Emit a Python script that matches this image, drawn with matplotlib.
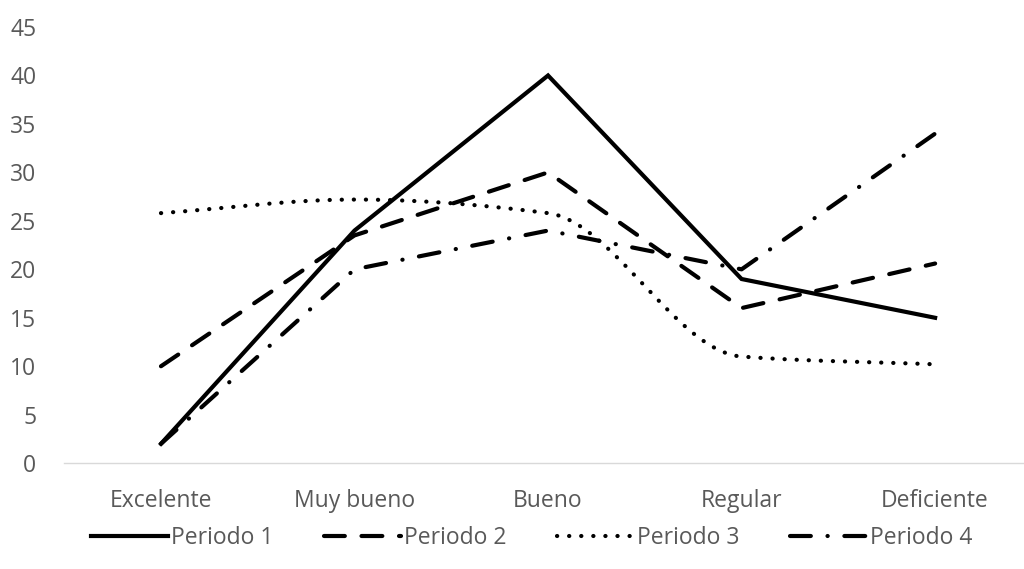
import matplotlib.pyplot as plt
import numpy as np

categories = ['Excelente', 'Muy bueno', 'Bueno', 'Regular', 'Deficiente']
periodo_1 = [2, 24, 40, 19, 15]
periodo_2 = [10, 23.5, 30, 16, 20.6]
periodo_3 = [25.8, 27.2, 25.8, 11, 10.2]
periodo_4 = [2, 20, 24, 20, 34]
yticks = list(range(0, 50, 5))


def smooth(xs, ys, steps=40):
    # monotone cubic (Fritsch-Carlson) through the points, no overshoot
    xs = np.asarray(xs, float)
    ys = np.asarray(ys, float)
    h = np.diff(xs)
    d = np.diff(ys) / h
    m = np.zeros_like(ys)
    m[0], m[-1] = d[0], d[-1]
    for i in range(1, len(ys) - 1):
        if d[i - 1] * d[i] > 0:
            m[i] = 2 / (1 / d[i - 1] + 1 / d[i])
    out_x, out_y = [], []
    t = np.linspace(0, 1, steps)
    for i in range(len(xs) - 1):
        h00 = 2 * t ** 3 - 3 * t ** 2 + 1
        h10 = t ** 3 - 2 * t ** 2 + t
        h01 = -2 * t ** 3 + 3 * t ** 2
        h11 = t ** 3 - t ** 2
        out_x.extend(xs[i] + t * h[i])
        out_y.extend(h00 * ys[i] + h10 * h[i] * m[i] + h01 * ys[i + 1] + h11 * h[i] * m[i + 1])
    return out_x, out_y


plt.rcParams['font.family'] = ['Open Sans', 'DejaVu Sans']

fig = plt.figure(figsize=(10.24, 5.69), dpi=100)
ax = fig.add_axes([0.0627, 0.186, 0.945, 0.7665])

x = np.arange(len(categories))
lw = 3
ax.plot(x, periodo_1, color='black', lw=lw, solid_joinstyle='miter', label='Periodo 1')
ax.plot(x, periodo_2, color='black', lw=lw, linestyle=(0, (5, 4)),
        dash_capstyle='round', label='Periodo 2')
sx, sy = smooth(x, periodo_3)
ax.plot(sx, sy, color='black', lw=lw, linestyle=(0, (0.05, 2.85)),
        dash_capstyle='round', label='Periodo 3')
ax.plot(x, periodo_4, color='black', lw=lw, linestyle=(0, (5, 4, 0.05, 4)),
        dash_capstyle='round', label='Periodo 4')

ax.set_xlim(-0.5, 4.5)
ax.set_ylim(0, 45)
ax.set_yticks(yticks)
ax.set_xticks(x)
ax.set_xticklabels(categories)
ax.tick_params(length=0, labelsize=16.5, colors='#595959')
ax.tick_params(axis='x', pad=18.5)
ax.tick_params(axis='y', pad=20)
for s in ['top', 'right', 'left']:
    ax.spines[s].set_visible(False)
ax.spines['bottom'].set_color('#d9d9d9')
ax.spines['bottom'].set_linewidth(1)

fig.legend(loc='center', bbox_to_anchor=(0.519, 0.054), ncol=4, frameon=False,
           fontsize=16.5, handlelength=3.4, handletextpad=0.1, columnspacing=2.2,
           labelcolor='#595959')

fig.savefig('out.png', dpi=100)
